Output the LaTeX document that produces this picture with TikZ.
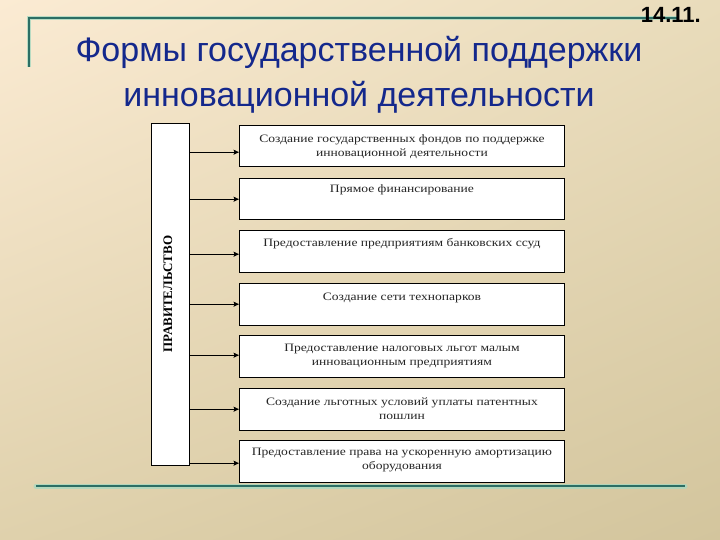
\documentclass[tikz,border=0pt]{standalone}
\usepackage{fontspec}
\setmainfont{Liberation Serif}
\newfontfamily\titlefont{Liberation Sans}
\newfontfamily\boxfont[FakeStretch=1.2]{Liberation Serif}
\usetikzlibrary{arrows.meta,shadings}
\definecolor{bgA}{HTML}{FBEBD3}
\definecolor{bgB}{HTML}{E9DCBB}
\definecolor{bgC}{HTML}{DFD1AC}
\definecolor{bgD}{HTML}{D3C59D}
\definecolor{teal}{HTML}{2C6E64}
\definecolor{glow}{HTML}{A8D8C0}
\definecolor{titleblue}{HTML}{14288C}
\definecolor{boxtext}{HTML}{262626}
\tikzset{
  formbox/.style={draw=black, line width=0.9bp, fill=white, inner sep=0pt,
    minimum width=325bp, minimum height=41.5bp, anchor=north west},
  govbox/.style={draw=black, line width=0.9bp, fill=white, inner sep=0pt,
    minimum width=38bp, minimum height=342bp, anchor=north west},
  feed/.style={-{Stealth[length=5.5bp,width=5bp,inset=1bp]}, line width=0.7bp, black},
  rule/.style={teal, line width=#1},
  halo/.style={glow, line width=#1, opacity=0.8}
}
\newcommand{\boxtxt}[2]{\parbox[c][41.5bp][t]{322bp}{\centering\boxfont\fontsize{11.3bp}{14.5bp}\selectfont\color{boxtext}\rule{0pt}{#1}#2}}
\begin{document}
\begin{tikzpicture}[x=1bp,y=-1bp]
\useasboundingbox (0,0) rectangle (720,540);
\shade[upper left=bgA, upper right=bgB, lower left=bgC, lower right=bgD] (0,0) rectangle (720,540);
% decorative rules
\coordinate (tl) at (29,67);
\coordinate (tc) at (29,18);
\coordinate (tr) at (678,18);
\draw[halo=3.5bp] (tl) -- (tc) -- (tr);
\draw[rule=1.6bp] (tl) -- (tc) -- (tr);
\coordinate (bl) at (36,486);
\coordinate (br) at (685,486);
\draw[halo=5bp, line cap=round] (bl) -- (br);
\draw[rule=2.6bp] (bl) -- (br);
% number
\node[anchor=base east, inner sep=0pt, font=\titlefont\bfseries\fontsize{22bp}{24bp}\selectfont] (num) at (701,23) {14.11.};
% title
\node[anchor=base, inner sep=0pt, text=titleblue, font=\titlefont\fontsize{34bp}{38bp}\selectfont] (t1) at (359,62) {Формы государственной поддержки};
\node[anchor=base, inner sep=0pt, text=titleblue, font=\titlefont\fontsize{34bp}{38bp}\selectfont] (t2) at (359,107) {инновационной деятельности};
% government box
\node[govbox] (gov) at (151,123) {};
\node[rotate=90, inner sep=0pt, font=\bfseries\fontsize{13bp}{14bp}\selectfont] (govt) at (168,294) {ПРАВИТЕЛЬСТВО};
% forms
\node[formbox] (b1) at (239,125) {\boxtxt{17bp}{Создание государственных фондов по поддержке\\инновационной деятельности}};
\node[formbox] (b2) at (239,178) {\boxtxt{14bp}{Прямое финансирование}};
\node[formbox] (b3) at (239,230) {\boxtxt{16bp}{Предоставление предприятиям банковских ссуд}};
\node[formbox] (b4) at (239,283) {\boxtxt{17bp}{Создание сети технопарков}};
\node[formbox] (b5) at (239,335) {\boxtxt{16bp}{Предоставление налоговых льгот малым\\инновационным предприятиям}};
\node[formbox] (b6) at (239,388) {\boxtxt{17bp}{Создание льготных условий уплаты патентных\\пошлин}};
\node[formbox] (b7) at (239,440) {\boxtxt{15bp}{Предоставление права на ускоренную амортизацию\\оборудования}};
% connectors
\foreach \b/\dy in {b1/-6,b2/0,b3/-3,b4/0,b5/1,b6/0,b7/-2}{
  \draw[feed] ([yshift=\dy bp]gov.east |- \b.west) -- ([yshift=\dy bp]\b.west);
}
\end{tikzpicture}
\end{document}
